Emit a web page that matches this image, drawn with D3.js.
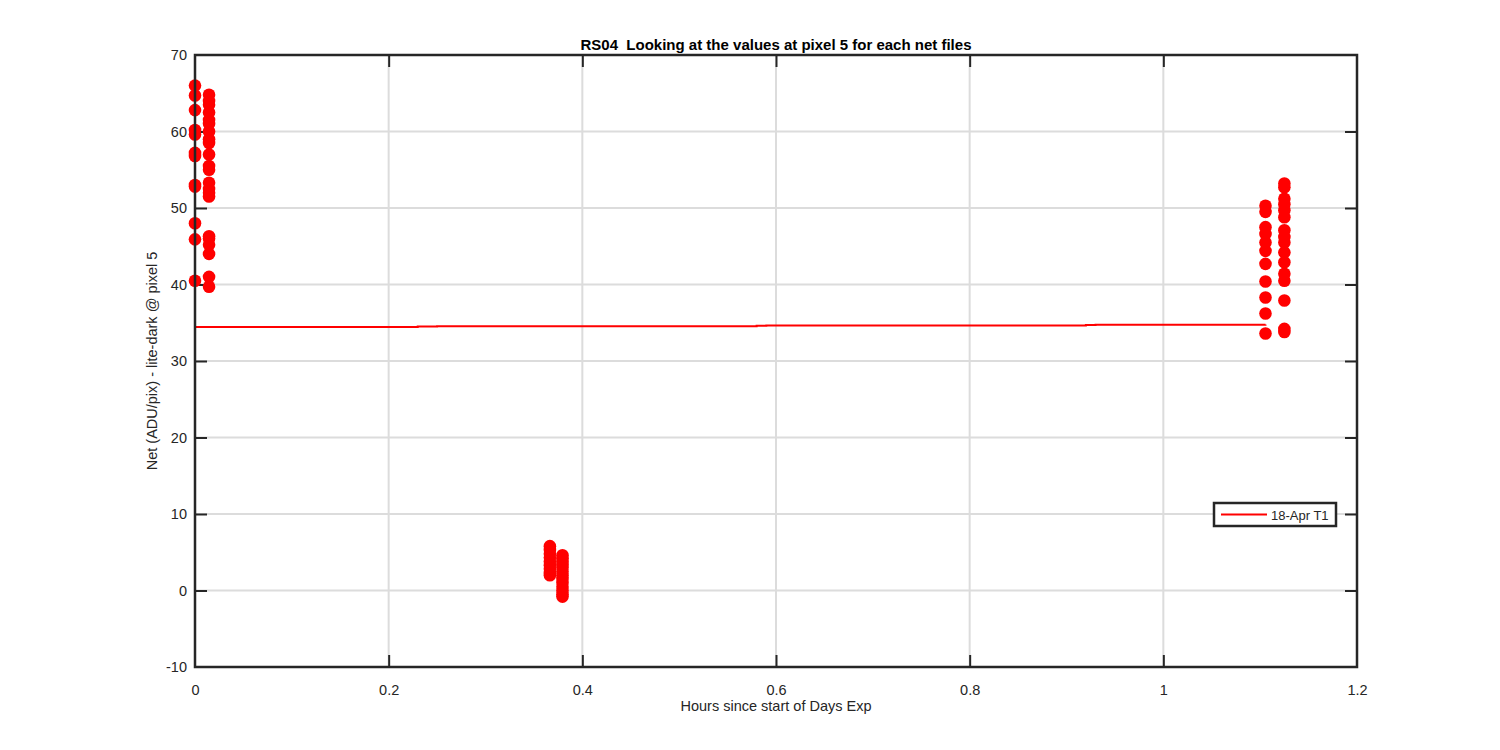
<!DOCTYPE html>
<html><head><meta charset="utf-8">
<script src="https://cdn.jsdelivr.net/npm/d3@7"></script>
<style>body{margin:0;background:#fff}svg{display:block}text{font-family:"Liberation Sans",Arial,sans-serif;fill:#262626;white-space:pre}</style>
</head><body><svg id="c" width="1500" height="750"></svg>
<script>
const xTicks = [0, 0.2, 0.4, 0.6, 0.8, 1, 1.2];
const yTicks = [-10, 0, 10, 20, 30, 40, 50, 60, 70];
const titleText = "RS04  Looking at the values at pixel 5 for each net files";
const xLabel = "Hours since start of Days Exp";
const yLabel = "Net (ADU/pix) - lite-dark @ pixel 5";
const legendLabel = "18-Apr T1";
// scatter points: [hours, net]
const col1X = 0.0;
const col1Y = [66, 64.7, 62.8, 60.2, 59.6, 57.2, 56.8, 53, 52.8, 48, 45.9, 40.5];
const col2X = 0.0145;
const col2Y = [64.8, 64, 63.5, 62.5, 61.5, 61, 60, 59, 58.5, 57, 55.5, 55, 53.3, 52.5, 52, 51.5, 46.3, 46, 45.2, 44, 41, 39.7];
const col3X = 0.3665;
const col3Y = [5.8, 5.3, 4.8, 4.3, 3.8, 3.3, 2.8, 2.3, 2.0];
const col4X = 0.3795;
const col4Y = [4.6, 4.2, 3.8, 3.4, 3.0, 2.5, 2.0, 1.5, 1.0, 0.5, 0.0, -0.5, -0.8];
const col5X = 1.1055;
const col5Y = [50.3, 49.5, 47.5, 46.6, 45.5, 44.4, 42.7, 40.4, 38.3, 36.2, 33.6];
const col6X = 1.125;
const col6Y = [53.2, 52.7, 51.2, 50.5, 49.7, 48.8, 47.1, 46.2, 45.5, 44.2, 42.9, 41.4, 40.5, 37.9, 34.2, 33.8];
// trend line: [hours, net]
const lineX = [0, 0.23, 0.25, 0.58, 0.59, 0.92, 0.93, 1.1055];
const lineY = [34.45, 34.5, 34.55, 34.6, 34.65, 34.7, 34.75, 34.78];

const svg = d3.select("#c");
const L = 195, T = 55, R = 1357, B = 667;
const x = d3.scaleLinear().domain([0, 1.2]).range([L, R]);
const y = d3.scaleLinear().domain([-10, 70]).range([B, T]);
const axisColor = "#262626";
const fs = 14.5;

// grid
const g = svg.append("g");
g.selectAll(".gx").data(xTicks.slice(1, -1)).enter().append("line")
  .attr("x1", d => x(d)).attr("x2", d => x(d)).attr("y1", T).attr("y2", B)
  .attr("stroke", "#dcdcdc").attr("stroke-width", 2);
g.selectAll(".gy").data(yTicks.slice(1, -1)).enter().append("line")
  .attr("y1", d => y(d)).attr("y2", d => y(d)).attr("x1", L).attr("x2", R)
  .attr("stroke", "#dcdcdc").attr("stroke-width", 2);

// axes with inward ticks
const tk = 12;
const fmt = d => String(d);
const axB = svg.append("g").attr("transform", `translate(0,${B})`)
  .call(d3.axisBottom(x).tickValues(xTicks).tickSize(-tk).tickPadding(tk + 6).tickFormat(fmt));
const axT = svg.append("g").attr("transform", `translate(0,${T})`)
  .call(d3.axisTop(x).tickValues(xTicks).tickSize(-tk).tickFormat(""));
const axL = svg.append("g").attr("transform", `translate(${L},0)`)
  .call(d3.axisLeft(y).tickValues(yTicks).tickSize(-tk).tickPadding(tk - 3).tickFormat(fmt));
const axR = svg.append("g").attr("transform", `translate(${R},0)`)
  .call(d3.axisRight(y).tickValues(yTicks).tickSize(-tk).tickFormat(""));
[axB, axT, axL, axR].forEach(a => {
  a.select(".domain").remove();
  a.selectAll("line").attr("stroke", axisColor).attr("stroke-width", 2);
  a.selectAll("text").attr("font-size", fs).style("font-family", "Liberation Sans, Arial, sans-serif").attr("fill", axisColor);
});
axL.selectAll("text").attr("x", -(8));
axB.selectAll(".tick").filter(d => d === 0 || d === 1.2).select("line").remove();
axT.selectAll(".tick").filter(d => d === 0 || d === 1.2).select("line").remove();
axL.selectAll(".tick").filter(d => d === -10 || d === 70).select("line").remove();
axR.selectAll(".tick").filter(d => d === -10 || d === 70).select("line").remove();

// trend line
const lineData = lineX.map((d, i) => [d, lineY[i]]);
svg.append("path").datum(lineData)
  .attr("d", d3.line().x(d => x(d[0])).y(d => y(d[1])).curve(d3.curveStepAfter))
  .attr("fill", "none").attr("stroke", "#ff0000").attr("stroke-width", 2);

// points
const pts = [];
[[col1X, col1Y], [col2X, col2Y], [col3X, col3Y], [col4X, col4Y], [col5X, col5Y], [col6X, col6Y]]
  .forEach(([cx, ys]) => ys.forEach(v => pts.push([cx, v])));
svg.append("g").selectAll("circle").data(pts).enter().append("circle")
  .attr("cx", d => x(d[0])).attr("cy", d => y(d[1])).attr("r", 6.3).attr("fill", "#ff0000");

// box
svg.append("rect").attr("x", L).attr("y", T).attr("width", R - L).attr("height", B - T)
  .attr("fill", "none").attr("stroke", axisColor).attr("stroke-width", 2.5);

// title and labels
svg.append("text").attr("x", (L + R) / 2).attr("y", 50).attr("text-anchor", "middle")
  .attr("font-size", 15).attr("font-weight", "bold").style("fill", "#000").text(titleText);
svg.append("text").attr("x", (L + R) / 2).attr("y", 711).attr("text-anchor", "middle")
  .attr("font-size", fs).text(xLabel);
svg.append("text").attr("transform", `translate(157,${(T + B) / 2}) rotate(-90)`).attr("text-anchor", "middle")
  .attr("font-size", fs).text(yLabel);

// legend
const lg = svg.append("g");
lg.append("rect").attr("x", 1214).attr("y", 503).attr("width", 122).attr("height", 23)
  .attr("fill", "#fff").attr("stroke", axisColor).attr("stroke-width", 2.5);
lg.append("line").attr("x1", 1221).attr("x2", 1267).attr("y1", 514.5).attr("y2", 514.5)
  .attr("stroke", "#ff0000").attr("stroke-width", 2);
lg.append("text").attr("x", 1271).attr("y", 519.5).attr("font-size", 13).text(legendLabel);
</script></body></html>
